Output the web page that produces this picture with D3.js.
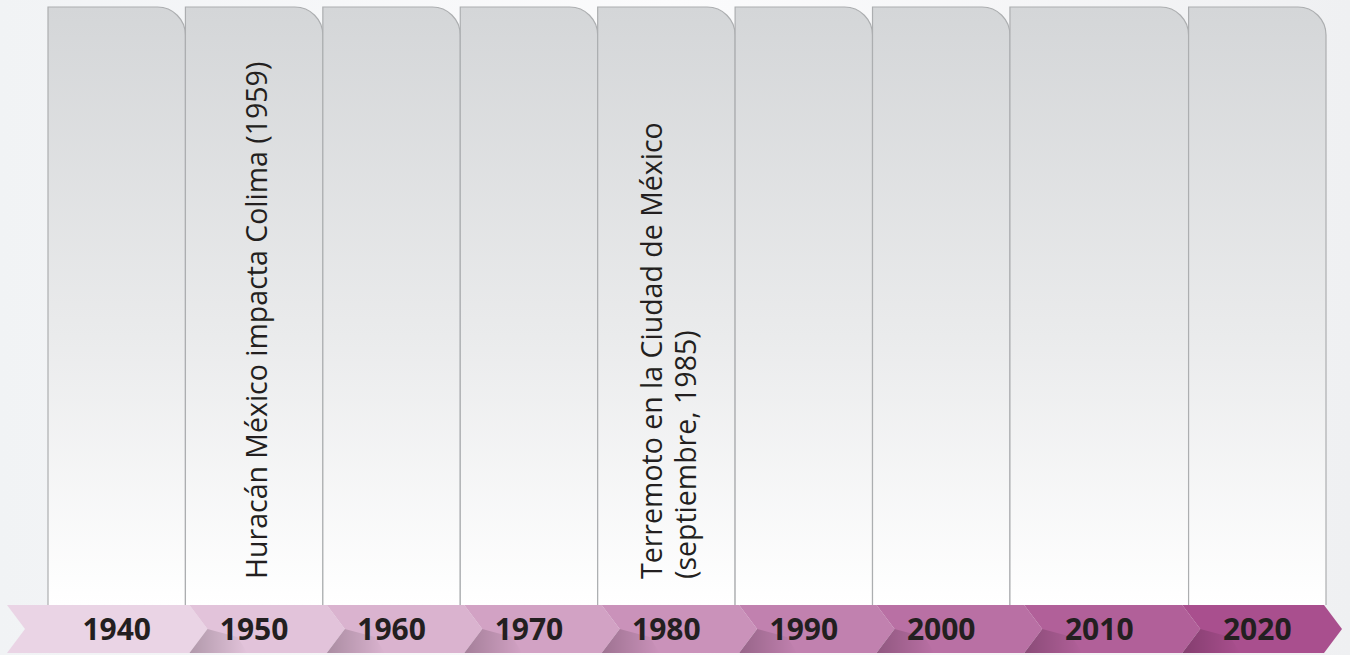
<!DOCTYPE html>
<html>
<head>
<meta charset="utf-8">
<script src="https://cdn.jsdelivr.net/npm/d3@7"></script>
<style>
  body { margin: 0; background: #f7f8f9; }
  svg { display: block; }
</style>
</head>
<body>
<div id="chart"></div>
<script>
// data
const decades = [1940, 1950, 1960, 1970, 1980, 1990, 2000, 2010, 2020];
const eventDecades = [1950, 1980];
const eventLines = [
  ['Huracán México impacta Colima (1959)'],
  ['Terremoto en la Ciudad de México', '(septiembre, 1985)']
];

const width = 1350,
  height = 655;

// layout
const panelTop = 7,
  bandTop = 605,
  bandBottom = 653,
  bandMid = (bandTop + bandBottom) / 2,
  notch = 18,
  radius = 28;
// the 2010 column is drawn a bit wider than the others
const panelUnits = [1, 1, 1, 1, 1, 1, 1, 1.3, 1];

let cum = [0];
panelUnits.forEach((u, i) => cum.push(cum[i] + u));
let xUnits = d3.scaleLinear().domain([0, d3.sum(panelUnits)]).range([48, 1326]);
let panelLeft = (i) => xUnits(cum[i]);
let panelRight = (i) => xUnits(cum[i + 1]);
let panelCenter = (i) => (panelLeft(i) + panelRight(i)) / 2;

let bandColor = d3
  .scaleLinear()
  .domain([0, decades.length - 1])
  .range(['#ead4e5', '#a94f8e'])
  .interpolate(d3.interpolateRgb);

let svg = d3
  .select('#chart')
  .append('svg')
  .attr('width', width)
  .attr('height', height);

let defs = svg.append('defs');

let bg = defs.append('linearGradient').attr('id', 'bg');
bg.append('stop').attr('offset', '0%').attr('stop-color', '#f1f3f5');
bg.append('stop').attr('offset', '50%').attr('stop-color', '#fbfbfc');
bg.append('stop').attr('offset', '100%').attr('stop-color', '#eff0f2');

let pg = defs
  .append('linearGradient')
  .attr('id', 'panel')
  .attr('x1', 0)
  .attr('y1', 0)
  .attr('x2', 0)
  .attr('y2', 1);
pg.append('stop').attr('offset', '0%').attr('stop-color', '#d4d6d8');
pg.append('stop').attr('offset', '55%').attr('stop-color', '#eaebec');
pg.append('stop').attr('offset', '100%').attr('stop-color', '#ffffff');

let sg = defs.append('linearGradient').attr('id', 'shade');
sg.append('stop').attr('offset', '0%').attr('stop-color', '#000').attr('stop-opacity', 0.22);
sg.append('stop').attr('offset', '100%').attr('stop-color', '#000').attr('stop-opacity', 0);

svg.append('rect').attr('width', width).attr('height', height).attr('fill', 'url(#bg)');

// columns
svg
  .append('g')
  .selectAll('path')
  .data(decades)
  .join('path')
  .attr('d', (d, i) => {
    let x0 = panelLeft(i),
      x1 = panelRight(i);
    return (
      'M' + x0 + ',' + bandTop +
      'L' + x0 + ',' + panelTop +
      'L' + (x1 - radius) + ',' + panelTop +
      'A' + radius + ',' + radius + ' 0 0 1 ' + x1 + ',' + (panelTop + radius) +
      'L' + x1 + ',' + bandTop
    );
  })
  .attr('fill', 'url(#panel)')
  .attr('stroke', '#acaeb0')
  .attr('stroke-width', 1.2);

// event texts
eventDecades.forEach((dec, k) => {
  let i = decades.indexOf(dec);
  let lines = eventLines[k];
  let leading = 34;
  lines.forEach((t, j) => {
    let x = panelCenter(i) + 13 + (j - (lines.length - 1) / 2) * leading;
    svg
      .append('text')
      .attr('transform', 'translate(' + x + ',' + 579 + ') rotate(-90)')
      .attr('font-family', 'Open Sans, sans-serif')
      .attr('font-size', 28.5)
      .attr('fill', '#231f20')
      .text(t);
  });
});

// arrow band
let labelX = decades.map((d, i) => panelCenter(i));
let tips = decades.map((d, i) =>
  i < decades.length - 1 ? (labelX[i] + labelX[i + 1]) / 2 + 22 : 1342
);
let starts = decades.map((d, i) => (i === 0 ? 25 : tips[i - 1]));

let band = svg.append('g');
band
  .selectAll('path.seg')
  .data(decades)
  .join('path')
  .attr('class', 'seg')
  .attr('d', (d, i) => {
    let s = starts[i],
      t = tips[i];
    return (
      'M' + (s - notch) + ',' + bandTop +
      'L' + (t - notch) + ',' + bandTop +
      'L' + t + ',' + bandMid +
      'L' + (t - notch) + ',' + bandBottom +
      'L' + (s - notch) + ',' + bandBottom +
      'L' + s + ',' + bandMid + 'Z'
    );
  })
  .attr('fill', (d, i) => bandColor(i));

// shadow under each chevron tip
band
  .selectAll('path.shade')
  .data(decades.slice(1))
  .join('path')
  .attr('class', 'shade')
  .attr('d', (d, i) => {
    let s = starts[i + 1];
    return (
      'M' + s + ',' + bandMid +
      'L' + (s + 30) + ',' + (bandMid + 8) +
      'L' + (s + 40) + ',' + bandBottom +
      'L' + (s - notch) + ',' + bandBottom + 'Z'
    );
  })
  .attr('fill', 'url(#shade)');

band
  .selectAll('text')
  .data(decades)
  .join('text')
  .attr('x', (d, i) => labelX[i])
  .attr('y', bandMid + 11)
  .attr('text-anchor', 'middle')
  .attr('font-family', 'Open Sans, sans-serif')
  .attr('font-weight', 700)
  .attr('font-size', 30)
  .attr('fill', '#231f20')
  .text((d) => d);
</script>
</body>
</html>
